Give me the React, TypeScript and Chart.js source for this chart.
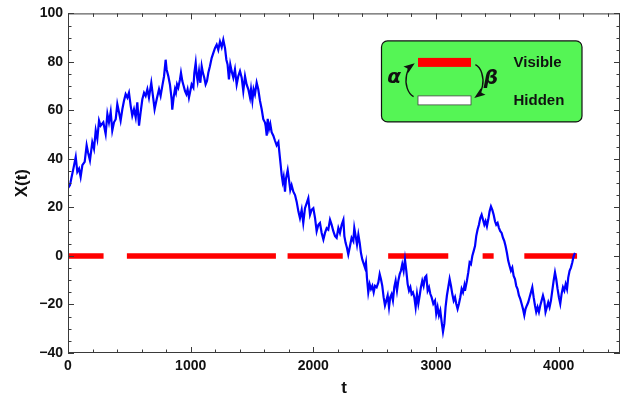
import React, { useEffect, useRef } from "react";
import { Chart, registerables } from "chart.js";

Chart.register(...registerables);

// ---- data ----
const tSteps: number[] = [
  0, 16, 27, 44, 63, 76, 90, 103, 117, 136, 152, 163, 179, 198, 212, 226, 239, 253, 266, 288,
  307, 321, 334, 348, 361, 375, 389, 402, 416, 429, 443, 456, 470, 484, 497, 511, 524, 538, 552, 565,
  579, 592, 606, 620, 633, 647, 660, 679, 696, 706, 723, 742, 755, 769, 783, 796,
  804, 818, 831, 845, 850, 861, 872, 880, 889, 899, 913, 921, 932, 943, 954, 965, 975, 986, 997, 1008,
  1022, 1030, 1041, 1049, 1057, 1068, 1079, 1090, 1100, 1111, 1122, 1133, 1144, 1157, 1171, 1185, 1198, 1212, 1225, 1239,
  1253, 1266, 1280, 1291, 1301, 1312, 1323, 1334, 1348, 1361, 1375, 1388, 1402, 1416, 1429, 1443, 1456, 1470, 1484, 1492,
  1503, 1513, 1524, 1538, 1551, 1565, 1579, 1592,
  1606, 1611, 1620, 1628, 1639, 1649, 1660, 1674, 1687, 1701, 1715, 1723, 1734, 1742, 1750, 1758, 1769, 1777, 1791, 1802,
  1812, 1823, 1837, 1851, 1864, 1878, 1891, 1905, 1918, 1932, 1946, 1959, 1973, 1986, 2000, 2014, 2027, 2041, 2054, 2068,
  2082, 2095, 2109, 2122, 2136, 2149, 2163, 2177, 2190, 2204, 2217, 2231, 2245, 2253, 2263, 2274, 2285, 2299, 2312, 2326,
  2334, 2345, 2356, 2367, 2378, 2388, 2399,
  2421, 2429, 2437, 2448, 2459, 2470, 2481, 2492, 2503, 2516, 2530, 2541, 2551, 2562, 2573, 2584, 2595, 2606, 2617, 2627,
  2638, 2649, 2660, 2671, 2682, 2693, 2704, 2714, 2725, 2736, 2747, 2758, 2769, 2780, 2791, 2801, 2812, 2823, 2834, 2845,
  2856, 2867, 2877, 2888, 2899, 2910, 2921, 2932, 2943, 2954, 2964, 2978, 2992, 3002, 3013, 3024, 3035, 3046, 3057, 3068,
  3078, 3089, 3100, 3111, 3122, 3133, 3144, 3155, 3165, 3176, 3187, 3198, 3209, 3220, 3231,
  3236, 3244, 3252, 3263, 3274, 3285, 3296, 3307, 3318, 3328, 3339, 3350, 3361, 3372, 3383, 3394, 3404, 3415, 3426, 3437,
  3448, 3459, 3470, 3481, 3491, 3502, 3513, 3524, 3535, 3546, 3557, 3567, 3578, 3589, 3600, 3611, 3622, 3633, 3644, 3654,
  3665, 3676, 3687, 3698, 3709, 3720, 3730, 3741, 3752, 3763, 3774, 3785, 3796, 3807, 3817, 3828, 3839, 3850, 3861, 3872,
  3883, 3893, 3904, 3915, 3926, 3937, 3948, 3959, 3970, 3980, 3991, 4002, 4013, 4024, 4035, 4046, 4057, 4068, 4078, 4089,
  4100, 4111, 4122, 4133,
];

const xValues: number[] = [
  28, 29.2, 31.9, 36.0, 40.8, 34.7, 36.0, 32.6, 37.4, 38.8, 45.6, 42.8, 39.4, 46.9, 44.2, 51.7, 48.3, 55.8, 53.7, 55.1,
  50.3, 58.5, 55.1, 59.4, 51.7, 55.1, 56.4, 62.6, 59.2, 55.8, 60.5, 63.9, 66.7, 65.3, 67.3, 61.9, 57.8, 60.5, 57.1, 63.3,
  53.7, 59.2, 64.6, 67.3, 66.0, 68.7, 65.3, 71.4, 64.6, 60.5, 64.6, 68.7, 66.0, 70.1, 74.1, 80.9,
  76.9, 74.1, 70.7, 64.6, 60.3, 65.3, 68.7, 67.3, 70.7, 69.4, 72.8, 75.5, 72.1, 70.1, 68.0, 66.7, 68.7, 65.3, 68.0, 70.7,
  69.4, 75.5, 79.6, 74.8, 72.1, 76.2, 71.4, 78.2, 75.5, 73.5, 70.7, 72.1, 75.5, 78.2, 81.6, 83.7, 85.7, 87.1, 85.0, 88.4,
  86.1, 89.1, 85.7, 80.9, 78.9, 72.8, 78.9, 76.2, 73.5, 76.9, 70.7, 74.1, 76.2, 73.5, 68.0, 74.1, 70.7, 68.7, 65.3, 68.7,
  64.0, 68.7, 66.7, 71.4, 68.7, 64.0, 60.5, 56.4,
  55.0, 53.7, 49.6, 56.5, 52.4, 54.4, 51.0, 49.6, 47.6, 45.6, 46.9, 42.8, 37.4, 33.3, 30.6, 32.6, 26.5, 31.9, 35.4, 31.3,
  27.2, 29.2, 26.5, 25.1, 22.4, 18.4, 15.6, 19.0, 13.6, 19.7, 21.8, 23.8, 17.0, 19.0, 19.7, 15.6, 10.2, 12.9, 13.6, 9.5,
  6.8, 9.5, 11.5, 10.9, 14.9, 12.9, 10.2, 8.2, 7.5, 11.5, 9.5, 12.9, 14.9, 8.2, 5.4, 3.4, 0.6, 4.1, 7.5, 6.1,
  11.5, 8.2, 4.7, 8.8, 5.4, 1.3, -1.4,
  -4.8, -2.7, -8.9, -15.0, -11.6, -13.6, -12.3, -15.0, -12.3, -12.9, -10.9, -7.5, -9.5, -12.3, -17.0, -20.4, -18.4, -16.3, -21.1, -17.0,
  -15.7, -18.4, -12.9, -10.2, -14.3, -10.2, -7.5, -6.1, -3.4, -6.1, -1.4, -6.1, -11.6, -14.3, -12.9, -15.7, -15.0, -17.0, -21.1, -15.7,
  -19.7, -16.3, -12.9, -10.2, -12.3, -8.9, -8.2, -14.3, -12.9, -15.7, -17.0, -19.7, -18.4, -23.8, -21.1, -24.5, -22.5, -27.2, -31.3, -27.9,
  -21.1, -16.3, -12.9, -9.5, -12.3, -15.7, -18.4, -17.0, -19.7, -21.8, -19.7, -17.0, -13.6, -15.0, -12.3,
  -14.3, -12.3, -10.2, -6.8, -2.7, -3.4, 0.0, 2.0, 4.1, 8.2, 10.9, 12.9, 15.6, 17.0, 15.0, 12.9, 14.3, 12.2, 15.0, 18.4,
  20.4, 19.0, 17.0, 14.3, 12.9, 13.6, 11.6, 10.2, 9.5, 7.5, 6.1, 4.1, 1.3, -2.0, -4.1, -6.1, -4.8, -8.2, -9.5, -12.3,
  -13.6, -16.3, -17.7, -19.7, -21.8, -24.5, -21.8, -20.4, -19.1, -17.0, -15.0, -12.9, -17.0, -20.4, -23.1, -21.1, -23.1, -20.4, -18.4, -16.3,
  -18.4, -23.1, -21.1, -19.1, -21.1, -18.4, -14.3, -10.2, -6.8, -9.5, -13.6, -17.0, -19.7, -15.6, -12.9, -14.3, -11.6, -13.6, -8.9, -6.1,
  -4.8, -2.7, 0.0, 1.3,
];

// visible intervals (red bars on X = 0)
const visibleStarts: number[] = [0, 480, 1790, 2610, 3380, 3720];
const visibleEnds: number[] = [290, 1695, 2240, 3100, 3470, 4150];

// axis ticks
const xTickValues: number[] = [0, 1000, 2000, 3000, 4000];
const yTickValues: number[] = [-40, -20, 0, 20, 40, 60, 80, 100];
const xRange: number[] = [0, 4500];
const yRange: number[] = [-40, 100];
const xMinorStep = 200;
const yMinorStep = 5;

const legendLabels: string[] = ["Visible", "Hidden"];
const rateLabels: string[] = ["α", "β"];

const FONT = "'Liberation Sans', Arial, Helvetica, sans-serif";

const framePlugin = {
  id: "frameAndInset",
  afterDraw(chart: any) {
    const ctx: CanvasRenderingContext2D = chart.ctx;
    const { left, right, top, bottom } = chart.chartArea;
    const xs = chart.scales.x;
    const ys = chart.scales.y;
    ctx.save();
    // frame
    ctx.strokeStyle = "#3a3a3a";
    ctx.lineWidth = 1;
    ctx.strokeRect(left + 0.5, top + 0.5, right - left - 1, bottom - top - 1);
    // ticks
    ctx.beginPath();
    for (let v = xRange[0]; v <= xRange[1] + 1e-6; v += xMinorStep) {
      const px = Math.round(xs.getPixelForValue(v)) + 0.5;
      const major = xTickValues.includes(v);
      const len = major ? 6 : 3.5;
      ctx.moveTo(px, bottom);
      ctx.lineTo(px, bottom - len);
      ctx.moveTo(px, top);
      ctx.lineTo(px, top + len);
    }
    for (let v = yRange[0]; v <= yRange[1] + 1e-6; v += yMinorStep) {
      const py = Math.round(ys.getPixelForValue(v)) + 0.5;
      const major = yTickValues.includes(v);
      const len = major ? 6 : 3.5;
      ctx.moveTo(left, py);
      ctx.lineTo(left + len, py);
      ctx.moveTo(right, py);
      ctx.lineTo(right - len, py);
    }
    ctx.stroke();

    // inset
    const bx = left + 313.5;
    const by = top + 27.5;
    const bw = 200.5;
    const bh = 81;
    ctx.beginPath();
    (ctx as any).roundRect(bx, by, bw, bh, 6);
    ctx.fillStyle = "#55f555";
    ctx.fill();
    ctx.strokeStyle = "#111";
    ctx.lineWidth = 1.2;
    ctx.stroke();

    const rx = bx + 36.5;
    ctx.fillStyle = "#ff0000";
    ctx.fillRect(rx, by + 17, 53, 9);
    ctx.fillStyle = "#ffffff";
    ctx.fillRect(rx, by + 55, 53, 9);
    ctx.strokeStyle = "#444";
    ctx.lineWidth = 0.8;
    ctx.strokeRect(rx, by + 55, 53, 9);

    ctx.fillStyle = "#111";
    ctx.font = `bold 15px ${FONT}`;
    ctx.textAlign = "left";
    ctx.textBaseline = "middle";
    ctx.fillText(legendLabels[0], bx + 132, by + 22);
    ctx.fillText(legendLabels[1], bx + 132, by + 60);

    ctx.font = `italic bold 20px 'DejaVu Sans', sans-serif`;
    ctx.textAlign = "center";
    ctx.fillText(rateLabels[0], bx + 12.5, by + 37);
    ctx.fillText(rateLabels[1], bx + 109.5, by + 38);

    // arrows
    const arrow = (cx: number, cy: number, erx: number, ery: number, a0: number, a1: number) => {
      ctx.beginPath();
      ctx.ellipse(cx, cy, erx, ery, 0, a0, a1, false);
      ctx.strokeStyle = "#111";
      ctx.lineWidth = 1.4;
      ctx.stroke();
      const ex = cx + erx * Math.cos(a1);
      const ey = cy + ery * Math.sin(a1);
      let dx = -erx * Math.sin(a1);
      let dy = ery * Math.cos(a1);
      const n = Math.hypot(dx, dy);
      dx /= n;
      dy /= n;
      const L = 8;
      const W = 4;
      ctx.beginPath();
      ctx.moveTo(ex + dx * 3, ey + dy * 3);
      ctx.lineTo(ex - dx * L - dy * W, ey - dy * L + dx * W);
      ctx.lineTo(ex - dx * (L - 2), ey - dy * (L - 2));
      ctx.lineTo(ex - dx * L + dy * W, ey - dy * L - dx * W);
      ctx.closePath();
      ctx.fillStyle = "#111";
      ctx.fill();
    };
    arrow(bx + 35.5, by + 39.5, 11, 17, 0.6 * Math.PI, 1.36 * Math.PI);
    arrow(bx + 90.5, by + 40, 11, 17, -0.4 * Math.PI, 0.36 * Math.PI);

    ctx.restore();
  },
};

export default function App() {
  const canvasRef = useRef<HTMLCanvasElement | null>(null);

  useEffect(() => {
    document.body.style.margin = "0";
    const canvas = canvasRef.current;
    if (!canvas) return;

    const walk = tSteps.map((t, i) => ({ x: t, y: xValues[i] }));
    const bars: { x: number; y: number | null }[] = [];
    visibleStarts.forEach((s, i) => {
      bars.push({ x: s, y: 0 });
      bars.push({ x: visibleEnds[i], y: 0 });
      bars.push({ x: (visibleEnds[i] + (visibleStarts[i + 1] ?? visibleEnds[i])) / 2, y: null });
    });

    const chart = new Chart(canvas, {
      type: "line",
      data: {
        datasets: [
          {
            data: walk,
            borderColor: "#0000ff",
            borderWidth: 2.2,
            pointRadius: 0,
            tension: 0,
            order: 1,
          },
          {
            data: bars as any,
            borderColor: "#ff0000",
            borderWidth: 5.5,
            borderCapStyle: "butt",
            pointRadius: 0,
            spanGaps: false,
            order: 2,
          },
        ],
      },
      options: {
        animation: false,
        responsive: false,
        maintainAspectRatio: false,
        layout: { padding: { top: 10, right: 11, left: 0, bottom: 0 } },
        plugins: { legend: { display: false }, tooltip: { enabled: false } },
        scales: {
          x: {
            type: "linear",
            min: xRange[0],
            max: xRange[1],
            grid: { display: false, drawTicks: false },
            border: { display: false },
            afterBuildTicks: (s: any) => {
              s.ticks = xTickValues.map((v) => ({ value: v }));
            },
            afterFit: (s: any) => {
              s.height = 49;
            },
            ticks: {
              padding: 5,
              color: "#111",
              font: { family: FONT, weight: "bold", size: 14 },
              maxRotation: 0,
              callback: (v: any) => String(v),
            },
            title: {
              display: true,
              text: "t",
              color: "#111",
              font: { family: FONT, weight: "bold", size: 17 },
              padding: { top: 0, bottom: 3 },
            },
          },
          y: {
            type: "linear",
            min: yRange[0],
            max: yRange[1],
            grid: { display: false, drawTicks: false },
            border: { display: false },
            afterBuildTicks: (s: any) => {
              s.ticks = yTickValues.map((v) => ({ value: v }));
            },
            afterFit: (s: any) => {
              s.width = 68;
            },
            ticks: {
              padding: 5,
              color: "#111",
              font: { family: FONT, weight: "bold", size: 14 },
              callback: (v: any) => (v < 0 ? "\u2212" + Math.abs(v) : String(v)),
            },
            title: {
              display: true,
              text: "X(t)",
              color: "#111",
              font: { family: FONT, weight: "bold", size: 17 },
              padding: { top: 12, bottom: 0 },
            },
          },
        },
      },
      plugins: [framePlugin],
    });

    return () => chart.destroy();
  }, []);

  return (
    <div style={{ width: 631, height: 402 }}>
      <canvas ref={canvasRef} width={631} height={402} style={{ display: "block" }} />
    </div>
  );
}
